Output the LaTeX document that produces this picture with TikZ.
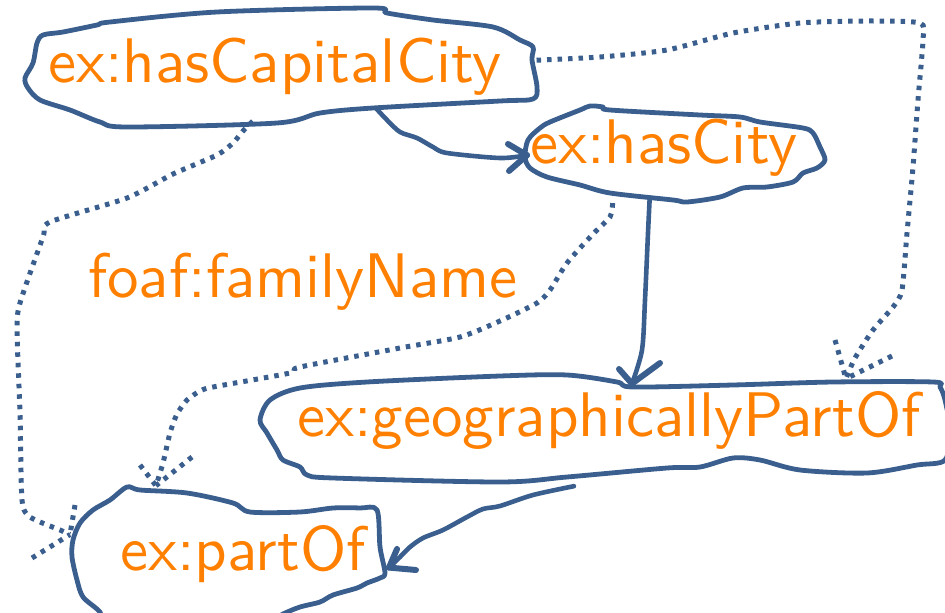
\documentclass[tikz,border=0pt]{standalone}
\usepackage{fontspec}
\newfontfamily\labelfont{lmsans10-regular.otf}
\usetikzlibrary{calc}
\definecolor{inkblue}{RGB}{58,95,142}
\definecolor{labelorange}{RGB}{255,128,0}
\begin{document}
\begin{tikzpicture}[x=1pt,y=-1pt,
  lbl/.style={font=\labelfont\fontsize{63}{70}\selectfont, text=labelorange, inner sep=0pt, anchor=base west},
  outline/.style={draw=inkblue, line width=4.8pt, line join=round, line cap=round},
  link/.style={draw=inkblue, line width=4.6pt, line cap=round, line join=round},
  dots/.style={draw=inkblue, line width=5pt, dash pattern=on 4.5pt off 6pt},
  barb/.style={draw=inkblue, line width=6pt, line cap=round}]
\clip (0,0) rectangle (945,613);

% labels
\node[lbl] (cap)  at (48,82)   {ex:hasCapitalCity};
\node[lbl] (city) at (530,163) {ex:hasCity};
\node[lbl] (foaf) at (88,297)  {foaf:familyName};
\node[lbl] (geo)  at (297,436) {ex:geographicallyPartOf};
\node[lbl] (part) at (120,570) {ex:partOf};

% hand-drawn outlines
\draw[outline] plot[smooth cycle, tension=0.5] coordinates {
  (25,78) (33,63) (37,43) (43,35) (63,32) (97,25) (110,22) (217,12) (373,8)
  (387,13) (433,20) (493,27) (520,40) (533,47) (532,60) (537,87) (533,99)
  (500,101) (373,108) (320,113) (277,123) (127,127) (100,122) (70,110)
  (40,100) (28,88)};
\draw[outline] plot[smooth cycle, tension=0.5] coordinates {
  (525,157) (528,140) (540,128) (550,122) (580,110) (590,106) (603,107)
  (610,110) (700,115) (740,117) (760,122) (803,128) (813,133) (820,147)
  (825,160) (817,168) (803,173) (793,182) (767,187) (743,188) (720,197)
  (687,202) (673,200) (610,193) (580,185) (547,177) (530,168)};
\draw[outline] plot[smooth cycle, tension=0.5] coordinates {
  (270,400) (260,420) (267,433) (277,450) (283,460) (300,467) (307,475)
  (333,478) (500,482) (567,477) (667,468) (700,467) (733,458) (760,460)
  (800,470) (867,473) (917,465) (945,460) (950,430) (945,400) (940,387)
  (933,382) (833,382) (733,385) (633,387) (617,382) (567,375) (500,376)
  (367,382) (300,388)};
\draw[outline] plot[smooth cycle, tension=0.5] coordinates {
  (127,487) (140,490) (187,493) (233,503) (250,512) (300,512) (333,508)
  (360,508) (377,510) (380,547) (385,573) (380,578) (367,583) (357,588)
  (333,595) (320,602) (300,607) (283,614) (250,630) (110,630) (100,612)
  (83,597) (77,580) (72,557) (73,540) (80,523) (93,510) (110,500)};

% solid connectors
\draw[link] plot[smooth, tension=0.5] coordinates {
  ($(cap.south)+(102,14)$) (387,120) (400,132) (417,138) (433,147) (447,153)
  (500,158) ($(city.west)+(-3,8)$)};
\draw[barb] (508,144) -- ($(city.west)+(-3,8)$);
\draw[barb] (509,171) -- ($(city.west)+(-3,8)$);

\draw[link] plot[smooth, tension=0.5] coordinates {
  ($(city.south)+(-14,23)$) (648,233) (645,300) (642,350) ($(geo.north)+(23,-7)$)};
\draw[barb] (619,369) -- ($(geo.north)+(23,-7)$);
\draw[barb] (660,363) -- ($(geo.north)+(23,-7)$);

\draw[link] plot[smooth, tension=0.5] coordinates {
  ($(geo.south)+(-35,37)$) (533,495) (500,506) (483,509) (467,517) (443,530)
  (423,538) (410,547) (400,557) ($(part.east)+(23,14)$)};
\draw[barb] (397,549) -- ($(part.east)+(23,14)$);
\draw[barb] (416,570) -- ($(part.east)+(23,14)$);

% dotted connectors
\draw[dots] plot[smooth, tension=0.4] coordinates {
  ($(cap.east)+(35,-6)$) (600,57) (667,50) (733,33) (800,23) (867,21) (920,23)
  (923,40) (918,100) (913,167) (907,233) (902,290) (893,307) (873,330)
  (855,358) ($(geo.north)+(237,-12)$)};
\draw[dots] (835,340) -- ($(geo.north)+(237,-12)$);
\draw[dots] (892,356) -- ($(geo.north)+(237,-12)$);

\draw[dots] plot[smooth, tension=0.4] coordinates {
  ($(cap.south)+(-22,26)$) (243,131) (233,143) (217,155) (173,174) (127,198)
  (50,222) (43,237) (20,303) (17,330) (20,413) (22,500) (30,517) (60,530)
  ($(part.west)+(-50,-19)$)};
\draw[dots] (75,505) -- ($(part.west)+(-50,-19)$);
\draw[dots] (32,558) -- ($(part.west)+(-50,-19)$);

\draw[dots] plot[smooth, tension=0.4] coordinates {
  ($(city.south)+(-51,27)$) (610,217) (593,234) (567,263) (550,290) (537,303)
  (500,321) (460,337) (400,348) (300,367) (290,373) (213,387) (200,391)
  (187,400) (177,414) (170,433) (163,463) ($(part.north)+(-87,-39)$)};
\draw[dots] (140,465) -- ($(part.north)+(-87,-39)$);
\draw[dots] (192,457) -- ($(part.north)+(-87,-39)$);
\end{tikzpicture}
\end{document}
